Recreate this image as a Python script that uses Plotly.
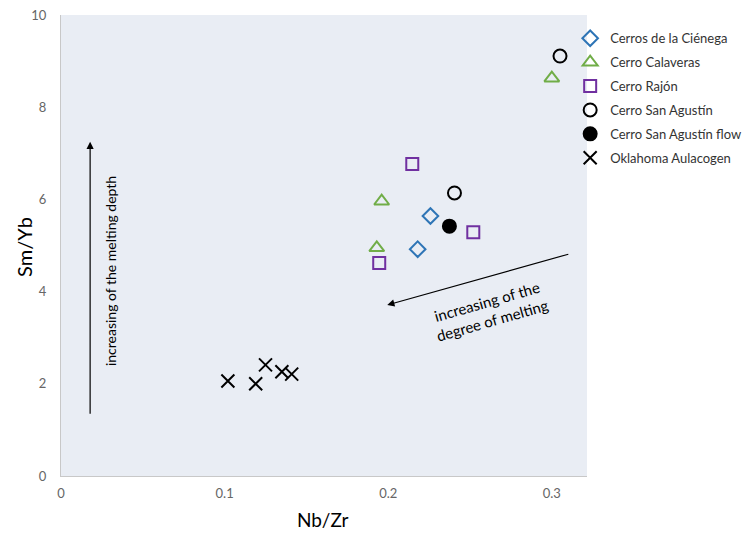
import plotly.graph_objects as go

# Data
cienega_x = [0.2258, 0.218]
cienega_y = [5.64, 4.92]
calaveras_x = [0.300, 0.196, 0.193]
calaveras_y = [8.63, 5.96, 4.95]
rajon_x = [0.2147, 0.252, 0.1945]
rajon_y = [6.77, 5.29, 4.62]
agustin_x = [0.305, 0.2405]
agustin_y = [9.11, 6.14]
agustin_flow_x = [0.2374]
agustin_flow_y = [5.42]
oklahoma_x = [0.102, 0.119, 0.125, 0.135, 0.141]
oklahoma_y = [2.06, 2.00, 2.41, 2.26, 2.21]

x_ticks = [0, 0.1, 0.2, 0.3]
x_tick_labels = ["0", "0.1", "0.2", "0.3"]
y_ticks = [0, 2, 4, 6, 8, 10]

FONT = "Lato"

fig = go.Figure()

series = [
    ("Cerros de la Ciénega", cienega_x, cienega_y, "diamond-open", "#2E75B6", 12),
    ("Cerro Calaveras", calaveras_x, calaveras_y, "triangle-up-open", "#70AD47", 13),
    ("Cerro Rajón", rajon_x, rajon_y, "square-open", "#7030A0", 12),
    ("Cerro San Agustín", agustin_x, agustin_y, "circle-open", "#000000", 13),
    ("Cerro San Agustín flow", agustin_flow_x, agustin_flow_y, "circle", "#000000", 13),
    ("Oklahoma Aulacogen", oklahoma_x, oklahoma_y, "x-thin-open", "#000000", 13),
]
for i, (name, xs, ys, sym, col, sz) in enumerate(series):
    fig.add_trace(go.Scatter(
        x=xs, y=ys, mode="markers", name=name, legendgroup=str(i),
        marker=dict(symbol=sym, color=col, size=sz,
                    line=dict(color=col, width=2)),
    ))

fig.add_annotation(x=0.0178, y=7.25, ax=0.0178, ay=1.32, xref="x", yref="y",
                   axref="x", ayref="y", showarrow=True, arrowhead=2,
                   arrowsize=1.2, arrowwidth=1.2, arrowcolor="#000000", text="")
fig.add_annotation(x=0.0307, y=4.45, xref="x", yref="y", showarrow=False,
                   text="increasing of the melting depth", textangle=-90,
                   font=dict(family=FONT, size=14, color="#000000"))
fig.add_annotation(x=0.1994, y=3.71, ax=0.311, ay=4.82, xref="x", yref="y",
                   axref="x", ayref="y", showarrow=True, arrowhead=2,
                   arrowsize=1.2, arrowwidth=1.2, arrowcolor="#000000", text="")
fig.add_annotation(x=0.262, y=3.58, xref="x", yref="y", showarrow=False,
                   text="increasing of the<br>degree of melting", textangle=-16,
                   font=dict(family=FONT, size=15, color="#000000"))

# axis titles
fig.add_annotation(x=-0.0703, y=0.497, xref="paper", yref="paper", showarrow=False,
                   xanchor="center", yanchor="middle",
                   text="Sm/Yb", textangle=-90,
                   font=dict(family=FONT, size=20, color="#000000"))
fig.add_annotation(x=0.498, y=-0.0933, xref="paper", yref="paper", showarrow=False,
                   xanchor="center", yanchor="middle",
                   text="Nb/Zr", font=dict(family=FONT, size=19, color="#000000"))

fig.update_layout(
    width=746, height=535,
    margin=dict(l=61, r=159, t=15, b=59, autoexpand=False),
    paper_bgcolor="white", plot_bgcolor="#E9EDF4",
    font=dict(family=FONT),
    showlegend=True,
    legend=dict(x=0.968, y=0.982, xanchor="left", yanchor="top",
                font=dict(family=FONT, size=13, color="#333333"),
                traceorder="grouped", tracegroupgap=4,
                itemwidth=30, bgcolor="rgba(0,0,0,0)"),
    xaxis=dict(range=[0, 0.3215], tickvals=x_ticks, ticktext=x_tick_labels,
               showgrid=False, zeroline=False, showline=True, automargin=False,
               linecolor="#C8C8C8", linewidth=1, ticks="", ticklabelstandoff=5,
               tickfont=dict(family=FONT, size=13, color="#666666")),
    yaxis=dict(range=[0, 10], tickvals=y_ticks,
               showgrid=False, zeroline=False, showline=True, automargin=False,
               linecolor="#C8C8C8", linewidth=1, ticks="", ticklabelstandoff=11,
               tickfont=dict(family=FONT, size=13, color="#666666")),
)

fig.write_html("out.html", config={"displayModeBar": False},
               post_script="document.body.style.margin='0';")
